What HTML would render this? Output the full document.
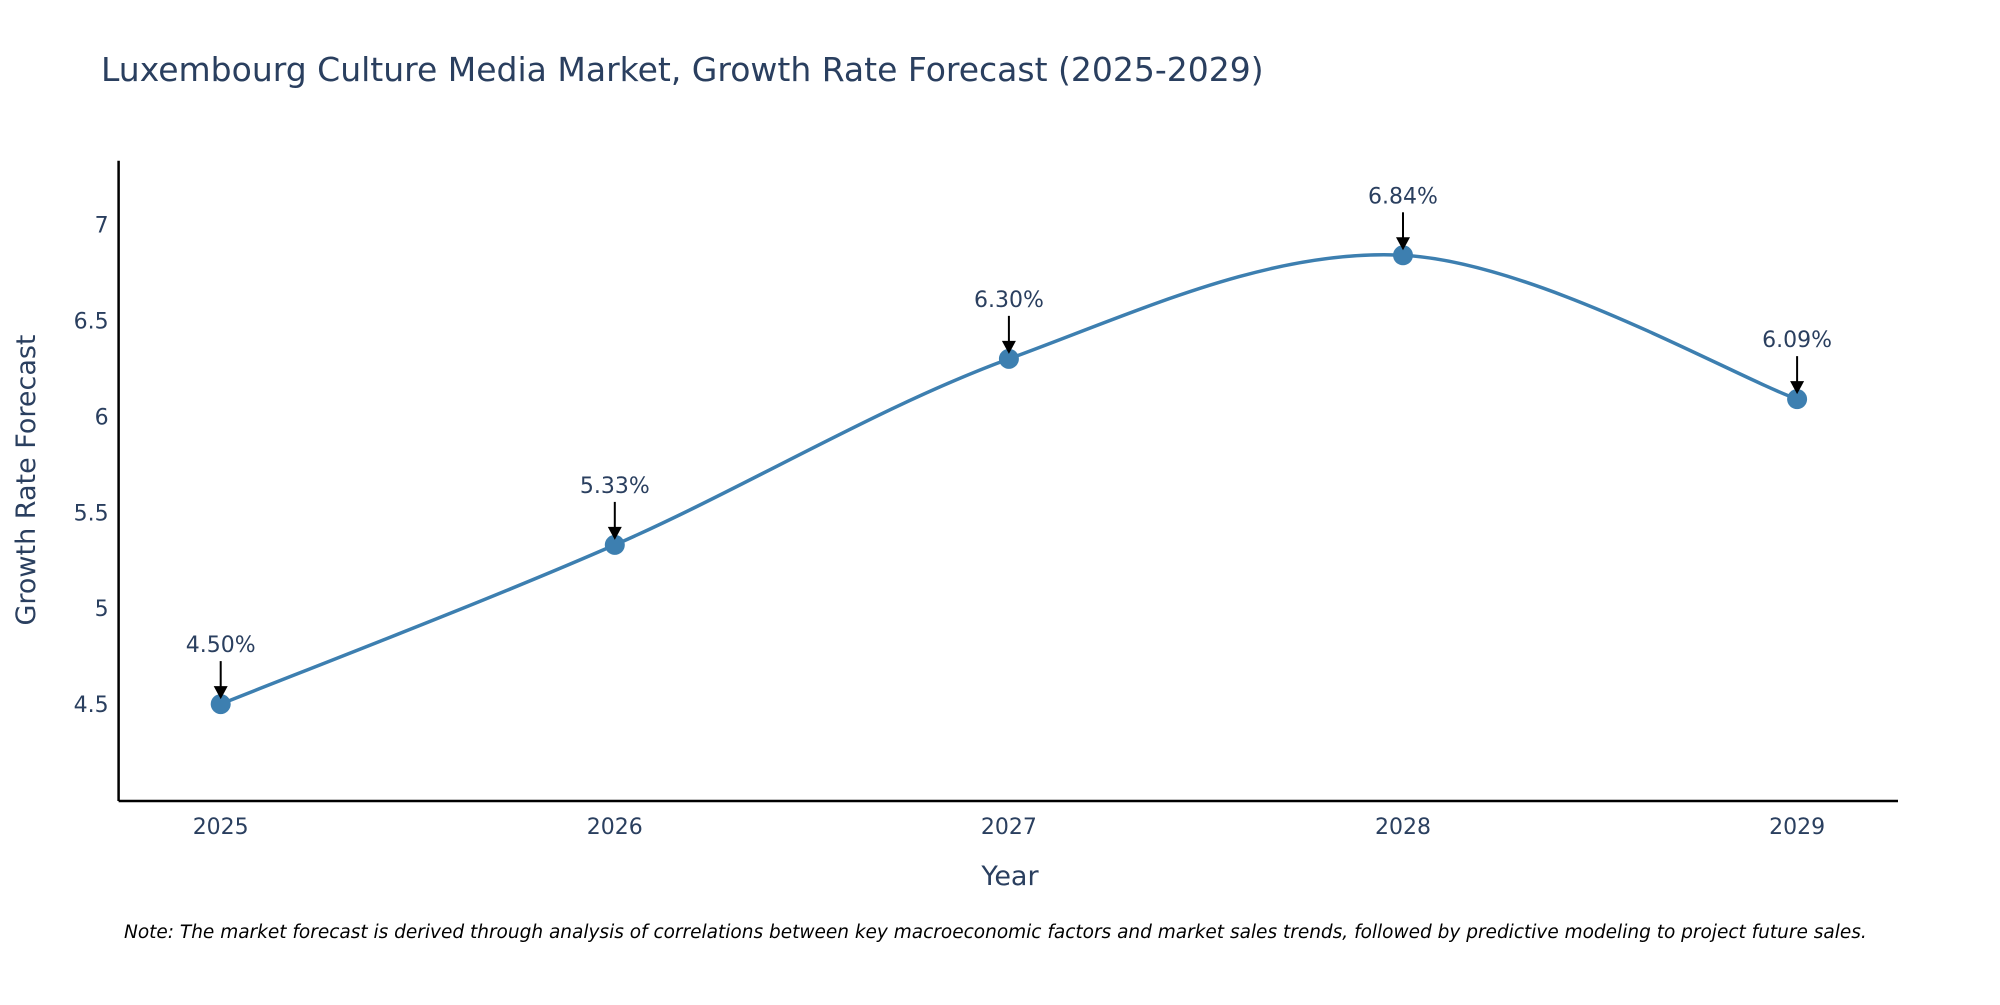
<!DOCTYPE html>
<html><head><meta charset="utf-8"><style>
body{margin:0;background:#fff;width:2000px;height:1000px;overflow:hidden}
svg text{font-family:"DejaVu Sans","Liberation Sans",sans-serif;fill:#2a3f5f}
</style></head><body>
<svg id="chart" width="2000" height="1000" viewBox="0 0 2000 1000" xmlns="http://www.w3.org/2000/svg">
<text x="101" y="81" font-size="33">Luxembourg Culture Media Market, Growth Rate Forecast (2025-2029)</text>
<g id="grid"></g>
<g id="marks"></g>
<text x="1010" y="885" font-size="27" text-anchor="middle">Year</text>
<text transform="translate(35,480) rotate(-90)" font-size="27" text-anchor="middle">Growth Rate Forecast</text>
<text x="124" y="938" font-size="18.5" font-style="italic" style="fill:#000">Note: The market forecast is derived through analysis of correlations between key macroeconomic factors and market sales trends, followed by predictive modeling to project future sales.</text>
</svg>
<script>
const years = [2025, 2026, 2027, 2028, 2029];
const growth = [4.50, 5.33, 6.30, 6.84, 6.09];
const yTicks = [4.5, 5, 5.5, 6, 6.5, 7];
const ns = "http://www.w3.org/2000/svg";
const L = 118.6, R = 1898, T = 160.7, B = 801;
const xs = y => 220.7 + (y - 2025) * 394.1;
const ys = v => 704.1 - (v - 4.5) * 191.8;
function mk(tag, attrs, parent, txt){const e=document.createElementNS(ns,tag);for(const k in attrs)e.setAttribute(k,attrs[k]);if(txt!==undefined)e.textContent=txt;parent.appendChild(e);return e;}
const g = document.getElementById('grid'), m = document.getElementById('marks');
let a = mk('line',{x1:L,y1:T,x2:L,y2:B,stroke:'#000','stroke-width':2.5},g);


a = mk('line',{x1:L,y1:B,x2:R,y2:B,stroke:'#000','stroke-width':2.5},g);


yTicks.forEach(v=>{const t=mk('text',{x:L-10,y:ys(v)+8,'font-size':22,'text-anchor':'end'},g,String(v));

});
years.forEach(y=>{const t=mk('text',{x:xs(y),y:834,'font-size':22,'text-anchor':'middle'},g,String(y));

});
const P = years.map((y,i)=>[xs(y),ys(growth[i])]);
let d = `M${P[0][0]},${P[0][1]}`;
const s = 1/6;
for(let i=0;i<P.length-1;i++){const p0=P[Math.max(i-1,0)],p1=P[i],p2=P[i+1],p3=P[Math.min(i+2,P.length-1)];
d+=` C${p1[0]+(p2[0]-p0[0])*s},${p1[1]+(p2[1]-p0[1])*s} ${p2[0]-(p3[0]-p1[0])*s},${p2[1]-(p3[1]-p1[1])*s} ${p2[0]},${p2[1]}`;}
const line = mk('path',{d:d,fill:'none',stroke:'#3d7fb0','stroke-width':3.5},m);


P.forEach((p,i)=>{
const c=mk('circle',{cx:p[0],cy:p[1],r:10,fill:'#3d7fb0'},m);


const ar=mk('line',{x1:p[0],y1:p[1]-43,x2:p[0],y2:p[1]-16,stroke:'#000','stroke-width':2},m);


const hd=mk('path',{d:`M${p[0]-7},${p[1]-18} L${p[0]+7},${p[1]-18} L${p[0]},${p[1]-5} Z`,fill:'#000'},m);


const t=mk('text',{x:p[0],y:p[1]-52,'font-size':22,'text-anchor':'middle'},m,growth[i].toFixed(2)+'%');


});
</script>
</body></html>
